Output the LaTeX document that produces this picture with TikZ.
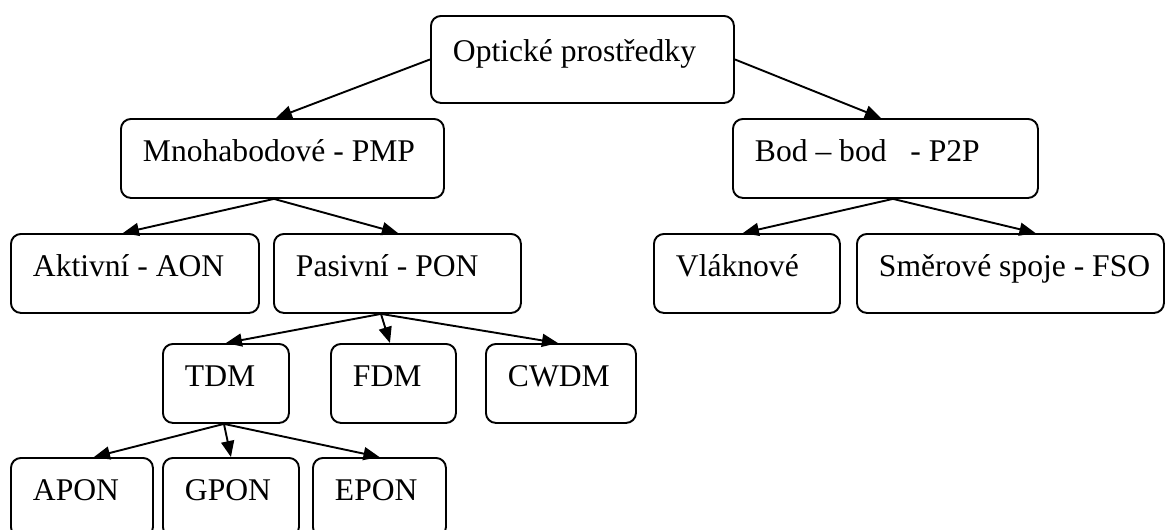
\documentclass[tikz,border=0pt]{standalone}
\usepackage{fontspec}
\setmainfont{Liberation Serif}
\usetikzlibrary{arrows.meta}
\tikzset{
  tbox/.style={draw, line width=1.9pt, rounded corners=10pt, anchor=north west,
    inner xsep=22pt, inner ysep=0pt, text height=43pt, text depth=36pt,
    font=\fontsize{31.6}{38}\selectfont},
  conn/.style={line width=1.9pt, -{Triangle[length=16pt,width=13pt]}}
}
% left-aligned line of fixed width inside a box
\newcommand\boxline[2]{\makebox[#1][l]{#2}}
\begin{document}
\begin{tikzpicture}[x=1pt,y=-1pt]
\useasboundingbox (0,0) rectangle (1171,530);

% root
\node[tbox, text height=46pt, text depth=41pt] (op) at (430,15) {\boxline{259pt}{Optické prostředky}};

% second level
\node[tbox] (mp)  at (120,118) {\boxline{279pt}{Mnohabodové - PMP}};
\node[tbox] (bod) at (732,118) {\boxline{261pt}{Bod – bod\ \ \ - P2P}};

% third level
\node[tbox] (akt) at (10,233)  {\boxline{204pt}{Aktivní - AON}};
\node[tbox] (pas) at (273,233) {\boxline{203pt}{Pasivní - PON}};
\node[tbox] (vl)  at (653,233) {\boxline{142pt}{Vláknové}};
\node[tbox] (sm)  at (856,233) {\boxline{263pt}{Směrové spoje - FSO}};

% multiplexing
\node[tbox] (tdm)  at (162,343) {\boxline{82pt}{TDM}};
\node[tbox] (fdm)  at (330,343) {\boxline{81pt}{FDM}};
\node[tbox] (cwdm) at (485,343) {\boxline{106pt}{CWDM}};

% TDM variants
\node[tbox] (apon) at (10,457)  {\boxline{98pt}{APON}};
\node[tbox] (gpon) at (162,457) {\boxline{92pt}{GPON}};
\node[tbox] (epon) at (312,457) {\boxline{89pt}{EPON}};

% connectors
\draw[conn] (op.west) -- ([xshift=-6.5pt]mp.north);
\draw[conn] (op.east) -- ([xshift=-4.5pt]bod.north);
\draw[conn] ([xshift=-8.5pt]mp.south) -- ([xshift=-12pt]akt.north);
\draw[conn] ([xshift=-8.5pt]mp.south) -- ([xshift=0.5pt]pas.north);
\draw[conn] ([xshift=7.5pt]bod.south) -- ([xshift=-4pt]vl.north);
\draw[conn] ([xshift=7.5pt]bod.south) -- ([xshift=25pt]sm.north);
\draw[conn] ([xshift=-16.5pt]pas.south) -- (tdm.north);
\draw[conn] ([xshift=-16.5pt]pas.south) -- ([xshift=-3.5pt]fdm.north);
\draw[conn] ([xshift=-16.5pt]pas.south) -- ([xshift=-3pt]cwdm.north);
\draw[conn] ([xshift=-2pt]tdm.south) -- ([xshift=12pt]apon.north);
\draw[conn] ([xshift=-2pt]tdm.south) -- (gpon.north);
\draw[conn] ([xshift=-2pt]tdm.south) -- (epon.north);
\end{tikzpicture}
\end{document}
